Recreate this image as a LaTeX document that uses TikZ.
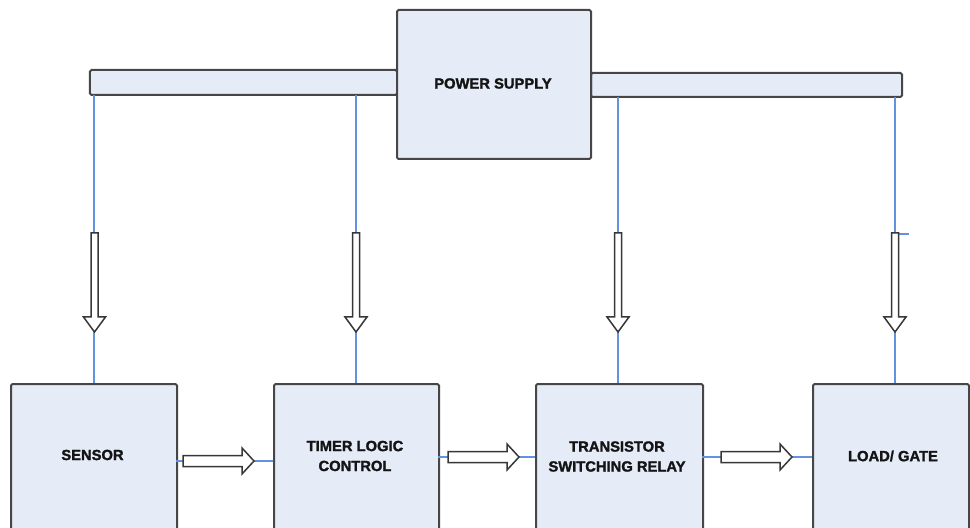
\documentclass[tikz,border=0pt]{standalone}
\usepackage{fontspec}
\setmainfont{Liberation Sans}
\newfontfamily\heavyfont[FakeBold=1.6]{Liberation Sans Bold}
\definecolor{boxfill}{RGB}{229,235,247}
\definecolor{boxedge}{RGB}{70,70,70}
\definecolor{wireblue}{RGB}{98,148,222}
\definecolor{arredge}{RGB}{55,55,55}
\begin{document}
\begin{tikzpicture}[x=1bp,y=-1bp,
  blk/.style={draw=boxedge,fill=boxfill,line width=2bp,rounded corners=1.5bp,inner sep=0pt},
  lbl/.style={font=\heavyfont\fontsize{14.8}{20}\selectfont,align=center,text=black!92,inner sep=0pt},
  wire/.style={draw=wireblue,line width=1.4bp},
  hollow/.style={draw=arredge,fill=white,line width=1.5bp,line join=miter},
  downarr/.pic={\draw[hollow] (-3.5,0) -- (-3.5,84) -- (-11,84) -- (0,99) -- (11,84) -- (3.5,84) -- (3.5,0) -- cycle;},
  rightarr/.pic={\draw[hollow] (0,-5.5) -- (59,-5.5) -- (59,-13) -- (71,0) -- (59,13) -- (59,5.5) -- (0,5.5) -- cycle;}
]
\useasboundingbox (0,0) rectangle (970,528);
\clip (0,0) rectangle (970,528);

% supply rails and power supply block
\node[blk,minimum width=307bp,minimum height=25bp] (lbar) at (243.5,82.5) {};
\node[blk,minimum width=311bp,minimum height=24bp] (rbar) at (746.5,85) {};
\node[blk,minimum width=194bp,minimum height=149bp] (power) at (494,84.5) {};
\node[lbl] (powerlbl) at (493,83.5) {POWER SUPPLY};

% processing chain blocks (running off the lower edge)
\node[blk,anchor=north west,minimum width=166bp,minimum height=170bp] (sensor) at (10,383) {};
\node[blk,anchor=north west,minimum width=165bp,minimum height=170bp] (timer) at (273,383) {};
\node[blk,anchor=north west,minimum width=167bp,minimum height=170bp] (relay) at (535,383) {};
\node[blk,anchor=north west,minimum width=156bp,minimum height=170bp] (load) at (812,383) {};

\node[lbl] (sensorlbl) at (92.5,455) {SENSOR};
\node[lbl] (timerlbl) at (355,456) {TIMER LOGIC\\CONTROL};
\node[lbl] (relaylbl) at (617,456.5) {TRANSISTOR\\SWITCHING RELAY};
\node[lbl] (loadlbl) at (893,456) {LOAD/ GATE};

% supply feeds from the rails
\coordinate (f1) at (94,95);
\coordinate (f2) at (356,95);
\coordinate (f3) at (618,97);
\coordinate (f4) at (895,97);
\draw[wire] (f1) -- (f1 |- sensor.north);
\draw[wire] (f2) -- (f2 |- timer.north);
\draw[wire] (f3) -- (f3 |- relay.north);
\draw[wire] (f4) -- (f4 |- load.north);
\coordinate (tick) at (909,234);
\draw[wire] (tick) -- (tick -| f4);

\pic at (94.5,233) {downarr};
\pic at (356,233) {downarr};
\pic at (618,233) {downarr};
\pic at (895,233) {downarr};

% signal path between blocks
\coordinate (s1) at (176,461);
\coordinate (s2) at (438,457);
\coordinate (s3) at (702,457);
\draw[wire] (s1) -- (s1 -| timer.west);
\draw[wire] (s2) -- (s2 -| relay.west);
\draw[wire] (s3) -- (s3 -| load.west);
\pic at (183,461) {rightarr};
\pic at (448,457) {rightarr};
\pic at (721,457) {rightarr};
\end{tikzpicture}
\end{document}
